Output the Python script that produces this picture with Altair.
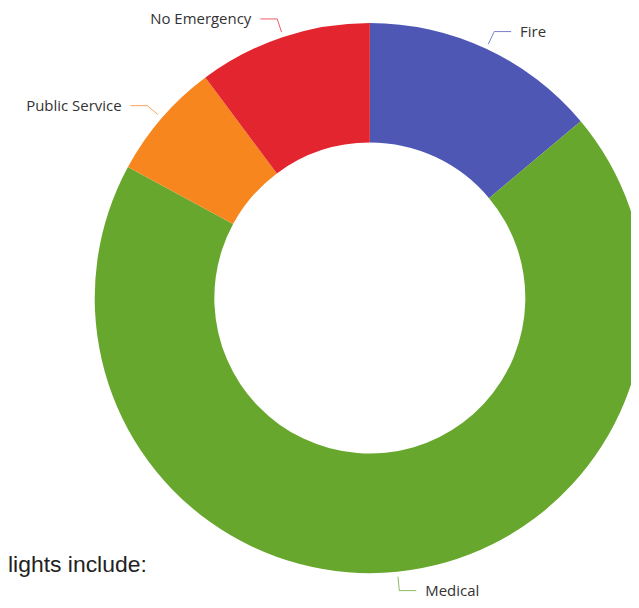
import altair as alt
import pandas as pd

# ---- data ----
categories = ["Fire", "Medical", "Public Service", "No Emergency"]
shares = [13.9, 69.0, 6.9, 10.2]          # percent of calls
order = [1, 2, 3, 4]                       # clockwise from 12 o'clock
colors = ["#4f57b5", "#68a72d", "#f7861f", "#e2252f"]
note_text = ["lights include:"]

df = pd.DataFrame({"category": categories, "share": shares, "idx": order})
note_df = pd.DataFrame({"t": note_text})

# ---- layout constants (pixels inside the view) ----
CX, CY = 363, 290
R_OUT, R_IN = 276, 156
R_L0, R_L1 = 281, 295   # leader line radial segment
H_LEN, GAP = 17, 9

color = alt.Color("category:N", scale=alt.Scale(domain=categories, range=colors), legend=None)

base = alt.Chart(df)

arc = base.mark_arc(outerRadius=R_OUT, innerRadius=R_IN).encode(
    theta=alt.Theta("share:Q", stack=True),
    order=alt.Order("idx:Q"),
    color=color,
    x=alt.value(CX),
    y=alt.value(CY),
)

geo = (
    base.transform_window(cum="sum(share)", sort=[alt.SortField("idx")], frame=[None, 0])
    .transform_joinaggregate(total="sum(share)")
    .transform_calculate(
        mid="(datum.cum - datum.share / 2) / datum.total * 2 * PI",
        side="sin(datum.mid) >= 0 ? 1 : -1",
        x0=f"{CX} + {R_L0} * sin(datum.mid)",
        y0=f"{CY} - {R_L0} * cos(datum.mid)",
        x1=f"{CX} + {R_L1} * sin(datum.mid)",
        y1=f"{CY} - {R_L1} * cos(datum.mid)",
        x2=f"datum.x1 + datum.side * {H_LEN}",
        xt=f"datum.x1 + datum.side * {H_LEN + GAP}",
    )
)

radial = geo.mark_rule(strokeWidth=1, opacity=0.75).encode(
    x=alt.X("x0:Q", scale=None, axis=None),
    y=alt.Y("y0:Q", scale=None, axis=None),
    x2="x1:Q",
    y2="y1:Q",
    color=color,
)

horiz = geo.mark_rule(strokeWidth=1, opacity=0.75).encode(
    x=alt.X("x1:Q", scale=None, axis=None),
    y=alt.Y("y1:Q", scale=None, axis=None),
    x2="x2:Q",
    color=color,
)

label_style = dict(baseline="middle", font="Open Sans", fontSize=15, color="#333333")

right_labels = geo.transform_filter("datum.side > 0").mark_text(align="left", **label_style).encode(
    x=alt.X("xt:Q", scale=None, axis=None),
    y=alt.Y("y1:Q", scale=None, axis=None),
    text="category:N",
)
left_labels = geo.transform_filter("datum.side < 0").mark_text(align="right", **label_style).encode(
    x=alt.X("xt:Q", scale=None, axis=None),
    y=alt.Y("y1:Q", scale=None, axis=None),
    text="category:N",
)

note = alt.Chart(note_df).mark_text(
    align="left", baseline="alphabetic", font="Liberation Sans", fontSize=23, color="#222222"
).encode(x=alt.value(0), y=alt.value(565), text="t:N")

chart = (
    alt.layer(arc, radial, horiz, right_labels, left_labels, note)
    .properties(width=625, height=596, padding=0, autosize=alt.AutoSizeParams(type="none"))
    .configure_view(stroke=None)
)

chart.save("out.html", embed_options={"renderer": "svg", "actions": False})
